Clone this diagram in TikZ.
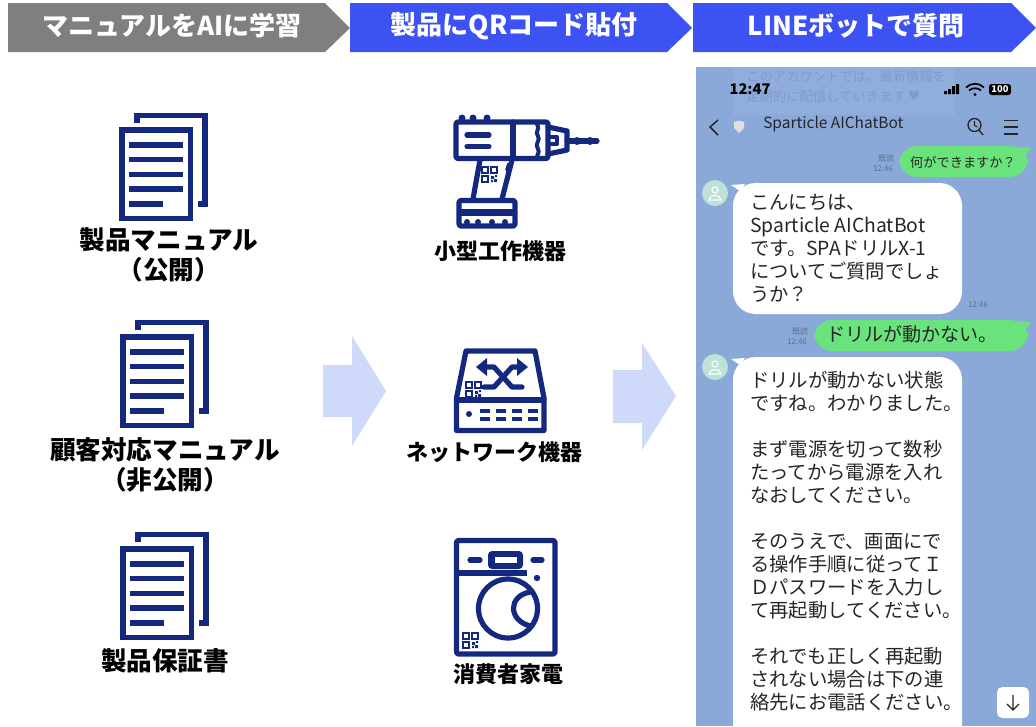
\documentclass[tikz,border=0pt]{standalone}
\usepackage{fontspec}
\setmainfont{Noto Sans CJK JP}
\usepackage{tikz}
\usetikzlibrary{positioning}
\definecolor{navy}{HTML}{14287F}
\definecolor{headgrey}{HTML}{7F7F7F}
\definecolor{headblue}{HTML}{3C52F2}
\definecolor{pale}{HTML}{CFDAFB}
\definecolor{chatbg}{HTML}{8AA9D9}
\definecolor{chatveil}{HTML}{90ADDB}
\definecolor{chatghost}{HTML}{7E9CCD}
\definecolor{chatgreen}{HTML}{6BE37C}
\definecolor{chatmint}{HTML}{BDE2D8}
\definecolor{chatgrey}{HTML}{5F6F8C}

\begin{document}
\begin{tikzpicture}
[x=0.75pt,y=-0.75pt,
head/.style={text=white,font=\fontsize{19.5}{22}\selectfont\bfseries,inner sep=0pt},
lab/.style={text=black,font=\fontsize{19.2}{23}\selectfont\bfseries,align=center,inner sep=0pt},
sublab/.style={text=black,font=\fontsize{16.5}{20}\selectfont\bfseries,inner sep=0pt},
msg/.style={text=black!85,font=\fontsize{14.5}{17.25}\selectfont,align=left,inner sep=0pt,anchor=north west},
tiny/.style={text=chatgrey,font=\fontsize{6}{7}\selectfont,inner sep=0pt},
ghost/.style={text=chatghost,font=\fontsize{10}{12}\selectfont,inner sep=0pt,anchor=west},
icon/.style={draw=navy,line width=3.9pt,line join=round,line cap=round},
thin/.style={draw=navy,line width=0.8pt},
qr/.pic={
\draw[thin] (0,0) rectangle (6,6);
\draw[thin] (9,0) rectangle (15,6);
\draw[thin] (0,9) rectangle (6,15);
\fill[navy] (9,9) rectangle (12,12) (12,12) rectangle (15,15) (9,13) rectangle (11,15) (13,8) rectangle (15,10);
},
doc/.pic={
\draw[icon,line cap=butt,line join=miter] (122,130) rectangle (190.5,218.5);
\draw[icon,line cap=butt,line join=miter] (137,123) -- (137,115.5) -- (205,115.5) -- (205,204) -- (198,204);
\foreach \y in {145,159.7,174.3,189} {\draw[icon,line cap=butt] (129,\y) -- (183,\y);}
\draw[icon,line cap=butt] (129,204) -- (163,204);
}]
\useasboundingbox (0,0) rectangle (1036,726);

% heading
\fill[headgrey] (8,3) -- (325,3) -- (350,28) -- (325,52) -- (8,52) -- cycle;
\fill[headblue] (350,3) -- (667,3) -- (692,28) -- (667,52) -- (350,52) -- cycle;
\fill[headblue] (693,3) -- (1011,3) -- (1036,28) -- (1011,52) -- (693,52) -- cycle;
\node[head] (step1) at (172,26) {マニュアルをAIに学習};
\node[head] (step2) at (514,26) {製品にQRコード貼付};
\node[head] (step3) at (856,26) {LINEボットで質問};

% manuals
\pic (doc1) at (0,0) {doc};
\pic (doc2) at (1,207) {doc};
\pic (doc3) at (1,419) {doc};
\node[lab] (man1) at (169,255) {製品マニュアル\\（公開）};
\node[lab] (man2) at (165,465) {顧客対応マニュアル\\（非公開）};
\node[lab] (man3) at (165,661) {製品保証書};

% block arrows
\fill[pale] (323,365) -- (352,365) -- (352,336) -- (386,391) -- (352,446) -- (352,417) -- (323,417) -- cycle;
\fill[pale] (613,370) -- (642,370) -- (642,343) -- (676,396) -- (642,450) -- (642,423) -- (613,423) -- cycle;

% drill
\draw[icon,rounded corners=1.5pt] (456,122) rectangle (548,158.5);
\draw[icon] (513,122) -- (513,158.5);
\draw[icon] (467,135) -- (489,135);
\draw[icon] (467,146.5) -- (489,146.5);
\foreach \x in {462,473,487} {\fill[navy] (\x,118) circle (3.5);}
\draw[icon,line width=3pt] (537,124) .. controls (541,129) and (534,132) .. (538,136) .. controls (541,140) and (534,144) .. (538,149) .. controls (540,152) and (537,155) .. (537,157);
\draw[icon] (548,127) -- (567,131) -- (567,150) -- (548,154);
\draw[icon,line width=3pt] (551,137) -- (557,137) -- (557,144) -- (551,144);
\draw[icon] (567,141) -- (597,141);
\fill[navy] (577,141) circle (4) (590,141) circle (4);
\draw[icon,line cap=butt] (480,160) -- (473,199);
\draw[icon,line cap=butt] (512,160) -- (502,199);
\draw[icon,line width=2.8pt] (509,164) -- (507,170);
\draw[icon,rounded corners=1.5pt] (459,200.5) rectangle (515,226);
\fill[navy] (459,209) rectangle (515,216);
\foreach \x in {467,478,492,505} {\fill[navy] (\x,222) circle (3);}
\pic (qrdrill) at (482,167) {qr};
\node[sublab] (prod1) at (500,251) {小型工作機器};

% network box
\draw[icon] (466,351) -- (535,351) -- (544,398) -- (544,430.5) -- (456.5,430.5) -- (456.5,398) -- cycle;
\draw[icon] (456.5,400) -- (544,400);
\fill[navy] (469,414) circle (3);
\foreach \x in {480,496,512,528} {
\fill[navy] (\x,409) rectangle (\x+9.5,413);
\fill[navy] (\x,417) rectangle (\x+9.5,421);
}
\draw[icon] (484,387) -- (494,387) -- (512,367) -- (522,367);
\draw[icon] (484,367) -- (494,367) -- (512,387) -- (522,387);
\fill[navy] (476,367) -- (487,358) -- (487,376) -- cycle;
\fill[navy] (528,367) -- (517,358) -- (517,376) -- cycle;
\fill[white] (464,380) rectangle (481,397);
\pic (qrnet) at (466,382) {qr};
\node[sublab] (prod2) at (494,452) {ネットワーク機器};

% washer
\draw[icon,rounded corners=1.5pt,line cap=butt] (456.5,540.5) rectangle (555,654);
\draw[icon,line cap=butt] (456.5,573) -- (527,573);
\draw[icon] (470,560) -- (480,560);
\draw[icon] (533,560) -- (542,560);
\fill[navy,rounded corners=3pt] (488,551) rectangle (523,569);
\fill[white] (495,557) rectangle (517,563);
\fill[navy] (537,578) circle (3.2);
\draw[icon] (508,608.5) circle (29.5);
\draw[icon] (530,592) .. controls (508,596) and (508,620) .. (530,626);
\pic (qrwash) at (463,633) {qr};
\node[sublab] (prod3) at (508,674) {消費者家電};

% chat panel
\fill[chatbg] (696,67) rectangle (1036,726);
\fill[chatveil] (733,67) rectangle (955,115);
\node[ghost] (ghost1) at (746,76) {このアカウントでは、最新情報を};
\node[ghost] (ghost2) at (746,96) {定期的に配信していきます};
\node[text=chatghost,font=\fontsize{9}{10}\selectfont,inner sep=0pt] (ghost3) at (914,96) {♥};
\node[text=black,font=\fontsize{11}{13}\selectfont\bfseries,inner sep=0pt] (clock) at (750,89) {12:47};
\fill[black] (944,91) rectangle (947,94) (948,89) rectangle (951,94) (952,86) rectangle (955,94) (956,84) rectangle (959,94);
\draw[black,line width=1.3pt] (966,87.5) .. controls (971,82.5) and (979,82.5) .. (984,87.5);
\draw[black,line width=1.3pt] (969,90.5) .. controls (972,87.5) and (978,87.5) .. (981,90.5);
\fill[black] (975,94.5) circle (1.6);
\fill[black,rounded corners=2pt] (989,84) rectangle (1011,95);
\node[text=white,font=\fontsize{7}{8}\selectfont\bfseries,inner sep=0pt] (batt) at (1000,89.5) {100};
\draw[black!85,line width=1.1pt] (718,120) -- (710,127) -- (718,135);
\fill[black!12] (734,122) -- (739,120.5) -- (744,122) -- (744,128) -- (739,133) -- (734,128) -- cycle;
\node[text=black!85,font=\fontsize{11.6}{13}\selectfont,inner sep=0pt,anchor=west] (title) at (763,124) {Sparticle AIChatBot};
\draw[black!85,line width=1pt] (974.5,125) circle (6.5) (979,130) -- (983,135);
\draw[black!85,line width=.8pt] (974.5,121) -- (974.5,125.5) -- (977.5,127);
\draw[black!85,line width=1pt] (1004,120.5) -- (1018,120.5) (1004,127) -- (1018,127) (1004,134) -- (1018,134);

% messages
\fill[chatgreen,rounded corners=14pt] (899,146) rectangle (1028,177);
\fill[chatgreen] (1018,147) -- (1031,148) -- (1025,156) -- cycle;
\node[text=black!85,font=\fontsize{9.9}{12}\selectfont,inner sep=0pt] (ask1) at (963,162) {何ができますか？};
\node[tiny] (read1) at (886,158) {既読};
\node[tiny] (time1) at (883,169) {12:46};
\fill[chatmint] (715,193) circle (13);
\draw[white,line width=.8pt] (715,190) circle (3) (709,200) .. controls (709,194) and (721,194) .. (721,200) -- cycle;
\fill[white,rounded corners=17pt] (733,183) rectangle (962,314);
\fill[white] (731,185) -- (745,184) -- (740,191) -- cycle;
\node[msg] (reply1) at (750,193.5) {こんにちは、\\Sparticle AIChatBot\\です。SPAドリルX-1\\についてご質問でしょ\\うか？};
\node[tiny] (time2) at (978,305) {12:46};
\fill[chatgreen,rounded corners=14pt] (814,320) rectangle (1028,351);
\fill[chatgreen] (1018,321) -- (1031,322) -- (1025,330) -- cycle;
\node[text=black!85,font=\fontsize{14.3}{17}\selectfont,inner sep=0pt,anchor=west] (ask2) at (826,334) {ドリルが動かない。};
\node[tiny] (read2) at (800,331) {既読};
\node[tiny] (time3) at (797,342) {12:46};
\fill[chatmint] (715,367) circle (13);
\draw[white,line width=.8pt] (715,364) circle (3) (709,374) .. controls (709,368) and (721,368) .. (721,374) -- cycle;
\fill[white,rounded corners=17pt] (733,357) rectangle (962,760);
\fill[white] (731,359) -- (745,358) -- (740,365) -- cycle;
\node[msg] (reply2) at (750,371) {ドリルが動かない状態\\ですね。わかりました。\\[17.25pt]まず電源を切って数秒\\たってから電源を入れ\\なおしてください。\\[17.25pt]そのうえで、画面にで\\る操作手順に従ってＩ\\Ｄパスワードを入力し\\て再起動してください。\\[17.25pt]それでも正しく再起動\\されない場合は下の連\\絡先にお電話ください。};
\fill[white,rounded corners=4pt] (997,687) rectangle (1029,718);
\draw[black!85,line width=1pt] (1013,695) -- (1013,710) (1007,704) -- (1013,710) -- (1019,704);
\end{tikzpicture}
\end{document}
